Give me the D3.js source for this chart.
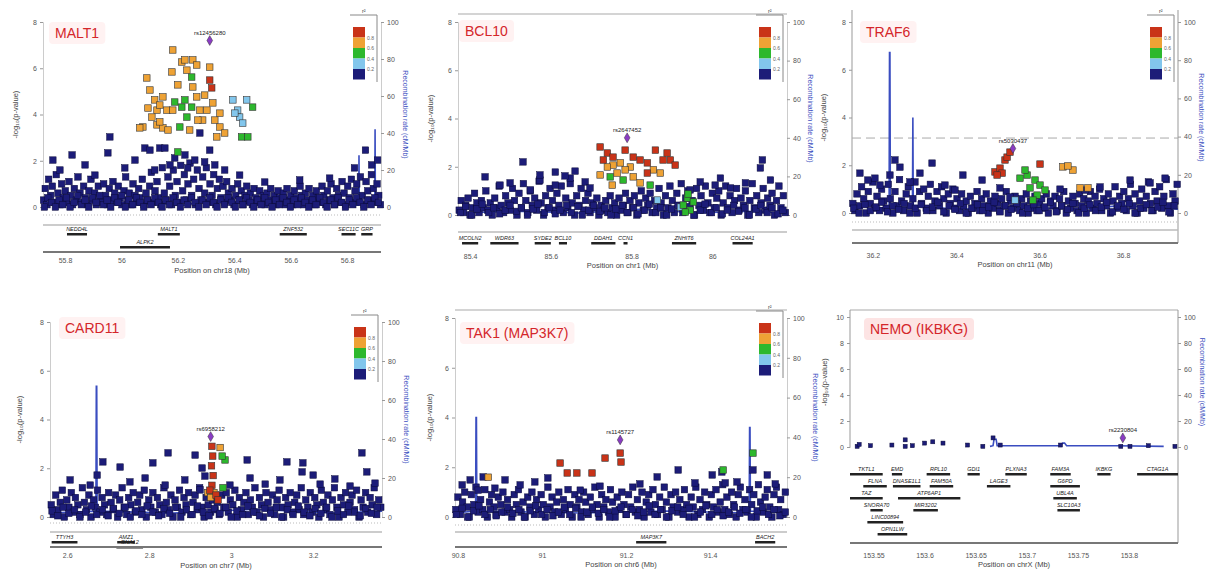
<!DOCTYPE html>
<html>
<head>
<meta charset="utf-8">
<script src="https://cdn.jsdelivr.net/npm/d3@7"></script>
<style>
body{margin:0;background:#fff;}
text{font-family:"Liberation Sans",Arial,sans-serif;}
</style>
</head>
<body>
<script>
// ---- data (positions in kb; point positions are offsets from the region start) ----
var titles = ["MALT1","BCL10","TRAF6","CARD11","TAK1 (MAP3K7)","NEMO (IKBKG)"];
var chroms = ["18","1","11","7","6","X"];
var starts = [55722,85370,36150,2558,90793,153527];
var ends   = [56920,86185,36932,3368,91583,153848];
var xTicks = [[55800,56000,56200,56400,56600,56800],[85400,85600,85800,86000],[36200,36400,36600,36800],
              [2600,2800,3000,3200],[90800,91000,91200,91400],[153550,153600,153650,153700,153750,153800]];
var yMaxes = [8,8,8,8,8,10];
var leadIds = ["rs12456280","rs2647452","rs5030437","rs6958212","rs1145727","rs2230804"];
var leads = [[591,7.2],[419,3.2],[386,2.7],[392,3.3],[393,3.1],[267,.7]];
var thresholds = [null,null,3.14,null,null,null];
var r2Labels = ["0.8","0.6","0.4","0.2"];

// navy (r2 < 0.2) points: kb offset, -log10 p
var p1Navy = [2,.3,8,.8,14,.1,20,1.2,27,.5,33,.9,40,.2,47,1.4,53,.6,60,.1,66,1.0,
72,.4,79,.7,85,.2,92,1.1,98,.5,105,.1,111,.8,118,.3,124,1.3,131,.6,137,.2,
144,.9,150,.4,157,.1,163,.7,170,1.2,176,.3,183,.6,189,.1,196,.9,202,.4,
209,.2,215,1.0,222,.5,228,.1,235,.8,241,.3,248,1.1,254,.6,261,.2,267,.9,274,.4,
280,.1,287,.7,293,1.3,300,.3,306,.6,313,.1,319,1.0,326,.5,332,.2,339,.8,345,.4,
352,1.2,358,.1,365,.6,371,.3,378,.9,384,1.5,391,.2,397,.7,404,1.1,410,.4,417,.1,
423,1.7,430,.6,436,.3,443,1.3,449,.9,456,.1,462,1.6,469,.5,475,1.1,482,.2,488,1.8,
495,.7,501,1.4,508,.3,514,1.0,521,1.9,527,.5,534,1.2,540,.1,547,1.6,553,.8,
560,.3,566,1.3,573,.6,579,1.7,586,.2,592,1.0,599,.5,605,1.4,612,.1,618,.8,625,1.2,
631,.4,638,.9,644,.2,651,1.1,657,.6,664,.3,670,.8,677,.1,683,.5,690,1.0,696,.3,
703,.7,709,.1,716,.5,722,.9,729,.3,735,.6,742,.1,748,.8,755,.4,761,.2,768,.7,
774,.3,781,.5,787,.1,794,.6,800,.3,807,.8,813,.2,820,.5,826,.1,833,.7,839,.4,
846,.2,852,.6,859,.1,865,.8,872,.3,878,.5,885,.1,891,.7,898,.4,904,.2,
911,.9,917,.5,924,.1,930,.6,937,.3,943,.8,950,.2,956,.5,963,.1,969,.7,976,.4,
982,.2,989,.9,995,.5,1002,.1,1008,.7,1015,.3,1021,1.0,1028,.4,1034,.1,1041,.8,1047,.5,
1054,.2,1060,1.1,1067,.6,1073,.1,1080,.9,1086,.4,1093,1.2,1099,.2,1106,.7,1112,1.0,1119,.3,
1125,1.3,1132,.5,1138,.1,1145,1.1,1151,.7,1158,.3,1164,1.4,1171,.8,1177,.2,1184,1.0,1190,.5,1196,.1,
5,0,17,.4,30,.2,44,0,57,.3,70,.1,83,.4,96,0,110,.2,123,.5,136,.1,149,.3,162,0,175,.4,188,.2,
201,.5,214,.1,227,.3,240,0,253,.4,266,.2,279,.5,292,0,305,.3,318,.1,331,.4,344,.2,357,0,370,.3,
383,.1,396,.4,409,.2,422,0,435,.3,448,.1,461,.4,474,.2,487,0,500,.3,513,.1,526,.4,539,.2,552,0,
565,.3,578,.1,591,.4,604,.2,617,0,630,.3,643,.1,656,.4,669,.2,682,0,695,.3,708,.1,721,.4,734,.2,
747,0,760,.3,773,.1,786,.4,799,.2,812,0,825,.3,838,.1,851,.4,864,.2,877,0,890,.3,903,.1,916,.4,
929,.2,942,0,955,.3,968,.1,981,.4,994,.2,1007,0,1020,.3,1033,.1,1046,.4,1059,.2,1072,0,1085,.3,
1098,.1,1111,.4,1124,.2,1137,0,1150,.3,1163,.1,1176,.4,1189,.2,
35,2.03,103,2.25,230,2.34,237,3.03,361,2.55,379,2.46,414,2.55,432,2.55,591,2.46,1143,2.46,
60,1.6,149,1.82,184,1.38,290,1.69,326,2.03,467,2.12,503,2.25,538,2.03,573,1.95,609,1.82,
644,1.6,697,1.38,786,1.08,910,1.17,1016,1.25,1104,1.69,1165,1.82,1186,2.03,450,1.82,513,1.69,
396,1.6,556,3.2];

var p2Navy = [3,.2,8,.6,14,.1,19,.4,25,.7,30,0,36,.3,41,.9,47,.5,52,.1,58,.6,63,.3,69,1.0,74,.2,80,.5,85,0,
91,.7,96,.3,102,1.2,107,.4,113,.1,118,.8,124,.5,129,.2,135,1.1,140,.6,146,0,151,.9,157,.3,162,1.3,
168,.6,173,.1,179,1.0,184,.4,190,.7,195,.2,201,1.4,206,.5,212,0,217,.8,223,.3,228,1.1,234,.6,239,.2,
245,.9,250,.4,256,1.2,261,.1,267,.7,272,.3,278,1.3,283,.5,289,0,294,.8,300,.4,305,1.1,311,.2,316,.6,
322,.9,327,.1,333,.5,338,.3,344,.7,349,0,355,.4,360,.2,366,.6,371,.1,377,.8,382,.3,388,.5,393,0,
399,.7,404,.2,410,.4,415,.9,421,.1,426,.6,432,.3,437,.8,443,0,448,.5,454,1.0,459,.2,465,.7,470,.4,
476,.9,481,.1,487,.6,492,.3,498,1.1,503,.5,509,0,514,.8,520,.3,525,1.2,531,.6,536,.1,542,.9,547,.4,
553,1.3,558,.2,564,.7,569,1.0,575,.3,580,.6,586,0,591,1.1,597,.4,602,.8,608,.2,613,1.2,619,.5,624,.1,
630,.9,635,.3,641,.7,646,1.0,652,0,657,.5,663,1.2,668,.3,674,.8,679,.1,685,.6,690,1.1,696,.2,701,.7,
707,.4,712,1.0,718,0,723,.6,729,1.3,734,.3,740,.8,745,.1,751,.5,756,1.1,762,.2,767,.7,773,.4,778,.9,
784,0,789,.6,795,1.2,800,.3,806,.8,811,.1,
6,.1,19,.35,34,0,47,.25,60,.45,76,.1,88,.3,103,.05,117,.2,129,.4,145,.15,157,.3,172,0,186,.25,198,.45,
214,.1,226,.3,241,.05,253,.2,269,.4,281,.1,297,.35,308,0,324,.2,336,.4,352,.15,364,.3,379,0,391,.25,
407,.4,419,.1,435,.3,446,.05,462,.2,474,.45,490,.1,502,.3,517,0,529,.25,545,.4,557,.1,573,.35,584,0,
600,.2,612,.45,628,.1,640,.3,655,.05,667,.2,683,.4,695,.15,711,.3,722,0,738,.25,750,.4,766,.1,778,.3,
793,.05,805,.2,
161,2.2,67,1.58,754,2.28,749,1.95,104,1.24,203,1.45,241,1.24,278,1.53,315,1.37,327,1.12,179,1.04,
600,1.37,637,1.24,675,1.12,712,1.33,774,1.45,650,1.53,575,1.04,129,1.33,241,1.78,290,1.82,265,1.62,203,1.66];

var p3Navy = [2,.4,7,.1,12,.8,18,.3,23,1.1,28,.6,34,0,39,.9,44,.4,50,1.3,55,.2,60,.7,66,.1,71,1.0,76,.5,
82,.2,87,1.2,92,.6,98,0,103,.9,108,.3,114,1.4,119,.5,124,.1,130,.8,135,1.1,140,.3,146,.6,151,1.3,
156,0,162,.9,167,.4,172,1.0,178,.2,183,.7,188,1.2,194,.1,199,.5,204,.9,210,.3,215,1.1,220,.6,226,0,
231,.8,236,.4,242,1.0,247,.2,252,.6,258,.1,263,.8,268,.3,274,.5,279,0,284,.7,290,.2,295,.4,300,.9,
306,.1,311,.6,316,.3,322,.8,327,0,332,.5,338,.2,343,.7,348,.4,354,.1,359,.6,364,.3,370,.9,375,0,
380,.5,386,.2,391,.7,396,.4,402,.1,407,.6,412,.3,418,.8,423,0,428,.5,434,.2,439,.7,444,.1,450,.4,
455,.6,460,.2,466,.8,471,0,476,.5,482,.3,487,.7,492,.1,498,.6,503,.3,508,.9,514,0,519,.5,524,.2,
530,.7,535,.4,540,.1,546,.8,551,.3,556,.6,562,0,567,.5,572,.9,578,.2,583,.7,588,.4,594,1.0,599,.1,
604,.6,610,.3,615,.8,620,0,626,.5,631,1.1,636,.2,642,.7,647,.4,652,.9,658,.1,663,.6,668,1.2,674,.3,
679,.8,684,0,690,.5,695,1.0,700,.2,706,.7,711,1.3,716,.4,722,.1,727,.9,732,.5,738,1.1,743,.2,748,.7,
754,1.4,759,.3,764,0,770,.8,775,.5,780,1.2,
4,.2,17,0,31,.35,44,.1,58,.25,71,.45,85,.05,98,.3,112,.15,125,.4,139,0,152,.2,166,.35,179,.1,193,.25,
206,.45,220,.05,233,.3,247,.15,260,.4,274,0,287,.2,301,.35,314,.1,328,.25,341,.45,355,.05,368,.3,
382,.15,395,.4,409,0,422,.2,436,.35,449,.1,463,.25,476,.45,490,.05,503,.3,517,.15,530,.4,544,0,
557,.2,571,.35,584,.1,598,.25,611,.45,625,.05,638,.3,652,.15,665,.4,679,0,692,.2,706,.35,719,.1,
733,.25,746,.45,760,.05,773,.3,
103,2.22,115,1.92,19,1.67,38,1.38,163,1.67,192,2.09,266,1.59,312,1.38,379,.67,67,1.17,139,1.3,
223,1.17,247,.96,355,1.05,667,1.38,715,1.26,751,1.46,595,1.09,559,.96,499,1.0,91,1.59,55,1.46];

var p4Navy = [3,.5,8,.1,14,.9,19,.3,25,.6,30,1.1,35,0,41,.7,46,.4,52,1.0,57,.2,62,.8,68,.5,73,.1,79,1.2,
84,.6,89,.3,95,.9,100,0,106,.7,111,.4,116,1.1,122,.2,127,.8,133,.5,138,.1,143,1.0,149,.6,154,.3,
160,.9,165,0,170,.7,176,1.2,181,.4,187,.1,192,.8,197,.5,203,1.0,208,.2,214,.6,219,.9,224,.3,230,1.1,
235,0,241,.7,246,.4,251,1.0,257,.2,262,.8,268,.5,273,.1,278,1.2,284,.6,289,.3,295,.9,300,0,305,.7,
311,.4,316,1.1,322,.2,327,.8,332,.5,338,1.0,343,.1,349,.6,354,.9,359,.3,365,1.2,370,.4,376,0,381,.8,
386,.5,392,.2,397,.7,403,.3,408,.6,413,.1,419,.9,424,.4,430,1.0,435,.2,440,.7,446,.5,451,1.1,457,0,
462,.8,467,.3,473,.6,478,1.0,484,.1,489,.7,494,.4,500,1.2,505,.2,511,.8,516,.5,521,0,527,1.0,532,.6,
538,.3,543,.9,548,.1,554,.7,559,1.1,565,.4,570,0,575,.8,581,.5,586,1.0,592,.2,597,.6,602,.9,608,.3,
613,1.2,619,.1,624,.7,629,.4,635,1.0,640,.2,646,.8,651,.5,656,0,662,1.1,667,.6,673,.3,678,.9,683,.1,
689,.7,694,1.2,700,.4,705,0,710,.8,716,.5,721,1.0,727,.2,732,.6,737,.9,743,.3,748,1.1,754,0,759,.7,
764,.4,770,1.0,775,.2,781,.8,786,.5,791,1.2,797,.1,802,.7,807,.4,
5,.25,19,.05,32,.4,46,.15,60,.3,73,0,87,.2,101,.45,114,.1,128,.3,142,.05,155,.35,169,.15,183,.4,196,0,
210,.25,224,.1,237,.45,251,.2,265,.05,278,.35,292,.15,306,.4,319,0,333,.3,347,.1,360,.45,374,.2,
388,.05,401,.35,415,.15,429,.4,442,0,456,.25,470,.1,483,.45,497,.2,511,.05,524,.35,538,.15,552,.4,
565,0,579,.3,593,.1,606,.45,620,.2,634,.05,647,.35,661,.15,675,.4,688,0,702,.25,716,.1,729,.45,
743,.2,757,.05,770,.35,784,.15,798,.4,
129,2.26,171,2.05,251,2.22,288,2.63,371,2.01,481,2.34,578,2.26,617,2.22,615,1.85,642,1.72,761,2.63,
773,1.85,115,1.72,49,1.52,98,1.31,195,1.44,232,1.6,281,1.31,329,1.52,366,1.11,439,1.31,488,1.6,
525,1.35,561,1.52,659,1.35,695,1.56,732,1.27,793,1.39,378,1.68,354,2.54];

var p5Navy = [2,.3,7,.8,13,.1,18,.6,23,1.0,29,.4,34,0,39,.9,45,.5,50,1.2,55,.2,61,.7,66,.3,71,1.1,77,0,
82,.6,87,.9,93,.4,98,.1,103,.8,109,.5,114,1.0,119,.2,125,.7,130,.3,135,0,141,.9,146,.5,151,1.1,
157,.2,162,.6,167,0,173,.8,178,.4,183,1.0,189,.1,194,.7,199,.3,205,.9,210,.5,215,0,221,1.2,226,.4,
231,.8,237,.2,242,.6,247,1.0,253,.1,258,.7,263,.3,269,1.1,274,.5,279,0,285,.9,290,.4,295,.7,301,.2,
306,1.0,311,.6,317,.1,322,.8,327,.3,333,1.2,338,.5,343,0,349,.9,354,.4,359,.7,365,.2,370,1.1,375,.6,
381,0,386,.8,391,.3,397,1.0,402,.5,407,.1,413,.9,418,.4,423,1.2,429,.2,434,.7,439,.3,445,1.0,450,0,
455,.6,461,.9,466,.2,471,1.1,477,.5,482,.1,487,.8,493,.3,498,1.2,503,.6,509,0,514,.9,519,.4,525,1.0,
530,.2,535,.7,541,.3,546,1.1,551,.5,557,0,562,.8,567,.4,573,1.2,578,.1,583,.7,589,.3,594,1.0,599,.5,
605,0,610,.9,615,.4,621,1.1,626,.2,631,.6,637,1.3,642,.3,647,.8,653,.1,658,1.0,663,.5,669,0,674,.9,
679,1.2,685,.3,690,.7,695,.2,701,1.1,706,.5,711,.9,717,0,722,1.3,727,.6,733,.2,738,.8,743,1.1,749,.4,
754,0,759,.9,765,1.2,770,.3,775,.7,781,.1,786,1.0,
3,.1,17,.35,30,0,44,.25,57,.45,71,.1,84,.3,98,.05,111,.2,125,.4,138,.15,152,.3,165,0,179,.25,192,.45,
206,.1,219,.3,233,.05,246,.2,260,.4,273,.1,287,.35,300,0,314,.2,327,.4,341,.15,354,.3,368,0,381,.25,
395,.4,408,.1,422,.3,435,.05,449,.2,462,.45,476,.1,489,.3,503,0,516,.25,530,.4,543,.1,557,.35,570,0,
584,.2,597,.45,611,.1,624,.3,638,.05,651,.2,665,.4,678,.15,692,.3,705,0,719,.25,732,.4,746,.1,759,.3,
773,.05,786,.2,
36,1.49,67,1.61,17,1.29,55,1.08,95,1.16,155,1.29,190,1.41,298,1.08,345,1.24,440,1.33,481,1.61,
531,1.89,571,1.37,612,1.69,635,1.81,643,1.37,671,1.41,709,1.89,743,1.69,762,1.33,221,1.57,119,1.49];

var p6Navy = [7,.05,9,.2,41,.15,54,.55,54,.05,73,.3,81,.4,91,.3,115,.15,130,.05,140,.7,147,.15,206,.15,
265,.05,274,.05,318,.05,292,.1,61,.1,20,.1];

// LD-coloured points: kb offset, -log10 p, r2 class (1 = 0.2-0.4 ... 4 = 0.8-1)
var p1Ld = [460,6.79,3,492,6.27,3,531,6.36,3,545,6.14,3,591,6.05,3,457,5.84,3,510,5.92,3,368,5.58,3,
425,4.76,3,396,4.63,3,531,5.19,3,591,5.49,4,598,5.15,4,404,4.19,3,372,4.28,3,439,4.19,3,386,3.89,3,
460,4.19,3,556,4.19,3,581,4.19,3,602,4.5,3,627,4.06,3,566,3.76,3,354,3.46,3,404,3.55,3,425,3.42,3,
627,3.46,3,644,3.2,3,616,3.03,3,414,3.68,3,343,3.42,3,510,3.89,2,492,4.32,2,503,4.63,2,527,5.62,2,
467,4.54,2,527,4.32,2,545,4.76,3,485,3.46,2,478,2.38,2,379,5.06,3,478,5.28,3,573,4.84,3,443,3.33,3,
520,3.33,3,609,3.76,3,414,4.41,3,549,3.76,3,503,6.36,3,673,4.63,1,690,4.19,1,697,3.89,1,708,3.63,1,
680,4.06,1,722,4.63,1,743,4.32,2,704,3.03,2,726,3.03,2];
var p2Ld = [352,2.82,4,370,2.57,4,384,2.4,4,434,2.4,4,451,2.28,4,469,2.16,4,518,2.57,4,526,2.28,4,508,2.28,4,
484,1.87,3,501,1.74,3,384,2.07,3,394,1.74,3,377,1.58,2,402,2.16,3,370,1.99,3,427,1.99,3,434,1.58,3,
451,1.33,3,469,1.74,4,409,1.45,2,382,1.24,3,360,2.28,4,414,2.69,4,489,2.69,4,538,2.07,4,414,1.87,3,
352,1.66,3,476,1.24,2,558,.41,2,568,.7,2,575,.2,2,563,.12,2,583,.54,2,570,.87,2,494,.62,1,551,.33,1];
var p3Ld = [343,1.72,4,355,1.88,4,367,2.22,4,372,2.34,4,379,2.55,4,360,1.67,4,348,1.59,4,451,2.05,4,
506,1.93,3,530,1.8,3,518,1.97,3,403,1.46,2,420,1.59,2,439,1.38,2,427,1.05,2,444,.75,2,434,.54,2,
451,1.17,2,463,.96,2,547,1.05,3,566,1.05,3,415,1.8,2,391,.54,1];
var p4Ld = [395,2.9,4,397,2.5,4,394,2.1,4,398,1.7,4,395,1.3,4,390,1.1,4,400,1.0,3,405,.9,4,385,1.0,3,
427,2.34,2,420,2.5,2,422,1.2,2,415,2.85,3,410,.7,4,392,.8,3];
var p5Ld = [393,2.57,4,395,2.21,4,357,2.37,4,250,2.17,4,267,1.77,4,290,1.77,4,326,1.77,4,638,1.89,2,709,2.57,2,79,1.6,3];
var p6Ld = [];

// recombination rate (cM/Mb): kb offset, rate
var p1Recomb = [0,2,100,1,200,3,300,1,400,2,500,1,600,4,700,2,800,1,900,3,1000,2,1100,1,1119,1,1120,28,1121,2,1176,2,1177,42,1178,3,1198,2];
var p2Recomb = [0,1,150,2,300,1,450,3,600,1,700,2,815,1];
var p3Recomb = [0,3,40,4,89,2,90,84,91,84,92,3,140,3,145,3,146,50,147,4,250,2,400,3,550,2,650,4,782,2];
var p4Recomb = [0,2,112,3,113,67,114,67,115,3,300,2,500,4,700,2,810,3];
var p5Recomb = [0,2,49,3,50,50,51,50,52,3,300,2,500,3,700,2,701,45,702,45,703,3,790,2];
var p6Recomb = [137,.5,140,1,141,6,143,6,144,1,206,1,208,3,210,3,212,1,260,1,307,.5];

// genes: start kb, end kb, name, row
var p1Genes = [[55807,55878,"NEDD4L",0],[56129,56207,"MALT1",0],[56561,56657,"ZNF532",0],[56780,56830,"SEC11C",0],
               [56850,56890,"GRP",0],[55995,56172,"ALPK2",1]];
var p2Genes = [[85380,85420,"MCOLN2",0],[85450,85520,"WDR63",0],[85560,85600,"SYDE2",0],[85620,85640,"BCL10",0],
               [85700,85760,"DDAH1",0],[85780,85790,"CCN1",0],[85900,85960,"ZNHIT6",0],[86050,86100,"COL24A1",0]];
var p3Genes = [];
var p4Genes = [[2562,2625,"TTYH3",0],[2722,2765,"AMZ1",0],[2720,2785,"GNA12",1]];
var p5Genes = [[91224,91296,"MAP3K7",0],[91507,91555,"BACH2",0]];
var p6Genes = [[153527,153559,"TKTL1",0],[153568,153578,"EMD",0],[153602,153625,"RPL10",0],[153642,153654,"GDI1",0],
               [153679,153700,"PLXNA3",0],[153723,153743,"FAM3A",0],[153769,153782,"IKBKG",0],[153808,153848,"CTAG1A",0],
               [153540,153563,"FLNA",1],[153569,153596,"DNASE1L1",1],[153605,153628,"FAM50A",1],[153661,153684,"LAGE3",1],
               [153723,153752,"G6PD",1],[153527,153559,"TAZ",2],[153574,153635,"ATP6AP1",2],[153726,153749,"UBL4A",2],
               [153547,153559,"SNORA70",3],[153589,153613,"MIR3202",3],[153730,153752,"SLC10A3",3],
               [153544,153579,"LINC00894",4],[153554,153583,"OPN1LW",5]];

var navyData = [p1Navy,p2Navy,p3Navy,p4Navy,p5Navy,p6Navy];
var ldData = [p1Ld,p2Ld,p3Ld,p4Ld,p5Ld,p6Ld];
var recombData = [p1Recomb,p2Recomb,p3Recomb,p4Recomb,p5Recomb,p6Recomb];
var geneData = [p1Genes,p2Genes,p3Genes,p4Genes,p5Genes,p6Genes];

// ---- layout ----
var layout = [
 {x0:43,x1:381,yTop:22,yBot:207,rug:215,line:225,rows:[231,244],bot:252,tick:262,xt:273,yt:18,rt:403,tx:55,ty:38,top:null,sides:false,legend:true,pt:6.5,tbox:"#fff2f2"},
 {x0:458,x1:787,yTop:22,yBot:215,rug:null,line:232,rows:[240],bot:null,tick:258,xt:268,yt:433,rt:808,tx:465,ty:36,top:14,sides:false,legend:true,pt:6.5,tbox:"#fff2f2"},
 {x0:852,x1:1178,yTop:22,yBot:213,rug:222,line:230,rows:[237],bot:243,tick:257,xt:267,yt:826,rt:1199,tx:866,ty:37,top:null,sides:true,legend:true,pt:6.5,tbox:"#fff2f2"},
 {x0:50,x1:382,yTop:322,yBot:517,rug:523,line:532,rows:[539,544],bot:547,tick:557,xt:568,yt:22,rt:404,tx:65,ty:333,top:null,sides:false,legend:true,pt:6.5,tbox:"#fff2f2"},
 {x0:455,x1:787,yTop:318,yBot:517,rug:525,line:532,rows:[539],bot:547,tick:557,xt:567,yt:432,rt:813,tx:466,ty:338,top:310,sides:false,legend:true,pt:6.5,tbox:"#fff2f2"},
 {x0:850,x1:1178,yTop:317,yBot:447,rug:null,line:null,rows:[471,483,495,507,519,531],bot:543,tick:557,xt:567,yt:827,rt:1200,tx:870,ty:334,top:310,sides:true,legend:false,pt:4,tbox:"#fde4e4"}
];
var ldColors = ["#1c1c78","#82c6ec","#2db82d","#eea235","#c93318"];
var recombColor = "#3a4dc0";

var svg = d3.select("body").append("svg").attr("width",1207).attr("height",572);

function chunk(a,n){var out=[];for(var i=0;i<a.length;i+=n){out.push(a.slice(i,i+n));}return out;}

function drawPanel(i){
    var L = layout[i], s = starts[i];
    var g = svg.append("g");
    var x = d3.scaleLinear().domain([starts[i],ends[i]]).range([L.x0,L.x1]);
    var y = d3.scaleLinear().domain([0,yMaxes[i]]).range([L.yBot,L.yTop]);
    var yr = d3.scaleLinear().domain([0,100]).range([L.yBot,L.yTop]);

    // frame bits
    if (L.top!=null) g.append("line").attr("x1",L.x0).attr("x2",L.x1).attr("y1",L.top).attr("y2",L.top).attr("stroke","#aaa").attr("stroke-width",1.2);
    if (L.sides) {
        var t = L.top!=null ? L.top : L.yTop-12;
        g.append("line").attr("x1",L.x0).attr("x2",L.x0).attr("y1",t).attr("y2",L.yBot).attr("stroke","#999");
        g.append("line").attr("x1",L.x1).attr("x2",L.x1).attr("y1",t).attr("y2",L.bot).attr("stroke","#999");
    }

    // title box + title
    var tb = g.append("rect");
    var tt = g.append("text").attr("x",L.tx).attr("y",L.ty).attr("font-size",14).attr("fill","#d4262a").text(titles[i]);
    var bb = tt.node().getBBox();
    tb.attr("x",bb.x-6).attr("y",bb.y-3).attr("width",bb.width+12).attr("height",bb.height+6)
        .attr("rx",4).attr("fill",L.tbox);

    // axes
    var ya = g.append("g").attr("transform","translate("+L.x0+",0)")
        .call(d3.axisLeft(y).ticks(5).tickSize(3));
    var yra = g.append("g").attr("transform","translate("+L.x1+",0)")
        .call(d3.axisRight(yr).ticks(5).tickSize(3));
    [ya,yra].forEach(function(a){
        a.select(".domain").attr("stroke","#ccc");
        a.selectAll(".tick line").attr("stroke","#999");
        a.selectAll("text").attr("font-size",7).attr("fill","#555").attr("font-family","Liberation Sans, Arial");
    });

    g.append("text").attr("transform","translate("+L.yt+","+((L.yTop+L.yBot)/2)+") rotate(-90)")
        .attr("text-anchor","middle").attr("font-size",7.5).attr("fill","#444").text("-log\u2081\u2080(p-value)");
    g.append("text").attr("transform","translate("+L.rt+","+((L.yTop+L.yBot)/2)+") rotate(90)")
        .attr("text-anchor","middle").attr("font-size",7).attr("fill","#3a4dc0").text("Recombination rate (cM/Mb)");

    // threshold
    if (thresholds[i]!=null) {
        g.append("line").attr("x1",L.x0).attr("x2",L.x1).attr("y1",y(thresholds[i])).attr("y2",y(thresholds[i]))
            .attr("stroke","#aaa").attr("stroke-dasharray","9,5");
    }

    // recombination line
    var rec = chunk(recombData[i],2);
    g.append("path").datum(rec).attr("fill","none").attr("stroke",recombColor).attr("stroke-width",1.6)
        .attr("d",d3.line().x(function(d){return x(s+d[0]);}).y(function(d){return yr(d[1]);}));

    // points
    var h = L.pt/2;
    g.selectAll("rect.nv").data(chunk(navyData[i],2)).enter().append("rect")
        .attr("x",function(d){return x(s+d[0])-h;}).attr("y",function(d){return y(d[1])-h;})
        .attr("width",L.pt).attr("height",L.pt)
        .attr("fill",ldColors[0]).attr("stroke","#0b0b3a").attr("stroke-width",0.5);
    var ld = chunk(ldData[i],3).sort(function(a,b){return a[2]-b[2];});
    g.selectAll("rect.ld").data(ld).enter().append("rect")
        .attr("x",function(d){return x(s+d[0])-h;}).attr("y",function(d){return y(d[1])-h;})
        .attr("width",L.pt).attr("height",L.pt)
        .attr("fill",function(d){return ldColors[d[2]];}).attr("stroke","#333").attr("stroke-width",0.6);

    // lead snp
    var ld0 = leads[i];
    g.append("path").attr("transform","translate("+x(s+ld0[0])+","+y(ld0[1])+")")
        .attr("d",d3.symbol().type(d3.symbolDiamond).size(28)).attr("fill","#8a3cc4").attr("stroke","#333").attr("stroke-width",0.5);
    g.append("text").attr("x",x(s+ld0[0])).attr("y",y(ld0[1])-6).attr("text-anchor","middle")
        .attr("font-size",6).attr("fill","#222").text(leadIds[i]);

    // legend
    if (L.legend) {
        var lx = L.x1-28, ly = L.yTop+5, bh = 10.5;
        [4,3,2,1,0].forEach(function(c,k){
            g.append("rect").attr("x",lx).attr("y",ly+k*bh).attr("width",12).attr("height",bh).attr("fill",ldColors[c]);
        });
        r2Labels.forEach(function(t,k){
            g.append("text").attr("x",lx+14).attr("y",ly+(k+1)*bh+2).attr("font-size",5).attr("fill","#666").text(t);
        });
        g.append("line").attr("x1",lx-3).attr("x2",L.x1-4).attr("y1",L.yTop-7).attr("y2",L.yTop-7).attr("stroke","#888");
        g.append("line").attr("x1",L.x1-4).attr("x2",L.x1-4).attr("y1",L.yTop-7).attr("y2",L.yTop+60).attr("stroke","#888");
        g.append("text").attr("x",lx+9).attr("y",L.yTop-9).attr("font-size",5.5).attr("fill","#444").text("r\u00b2");
    }

    // gene track
    if (L.rug!=null) g.append("line").attr("x1",L.x0).attr("x2",L.x1).attr("y1",L.rug).attr("y2",L.rug)
        .attr("stroke","#bbb").attr("stroke-dasharray","1,2");
    if (L.line!=null) g.append("line").attr("x1",L.x0).attr("x2",L.x1).attr("y1",L.line).attr("y2",L.line)
        .attr("stroke","#bbb").attr("stroke-width",1.5);
    geneData[i].forEach(function(gn){
        var gy = L.rows[gn[3]];
        g.append("rect").attr("x",x(gn[0])).attr("y",gy+2).attr("width",Math.max(1.5,x(gn[1])-x(gn[0]))).attr("height",2.5).attr("fill","#222");
        g.append("text").attr("x",(x(gn[0])+x(gn[1]))/2).attr("y",gy).attr("text-anchor","middle")
            .attr("font-size",5.5).attr("font-style","italic").attr("fill","#222").text(gn[2]);
    });
    if (L.bot!=null) g.append("line").attr("x1",L.x0).attr("x2",L.x1).attr("y1",L.bot).attr("y2",L.bot)
        .attr("stroke","#777").attr("stroke-width",1.8);

    // x axis
    var xa = g.append("g").attr("transform","translate(0,"+(L.tick-7)+")")
        .call(d3.axisBottom(x).tickValues(xTicks[i]).tickSize(0).tickFormat(function(v){return d3.format("~g")(v/1000);}));
    xa.select(".domain").remove();
    xa.selectAll("text").attr("font-size",7).attr("fill","#555").attr("font-family","Liberation Sans, Arial");
    g.append("text").attr("x",(L.x0+L.x1)/2).attr("y",L.xt).attr("text-anchor","middle").attr("font-size",7.5)
        .attr("fill","#444").text("Position on chr"+chroms[i]+" (Mb)");
}

for (var i=0;i<6;i++) drawPanel(i);
</script>
</body>
</html>
